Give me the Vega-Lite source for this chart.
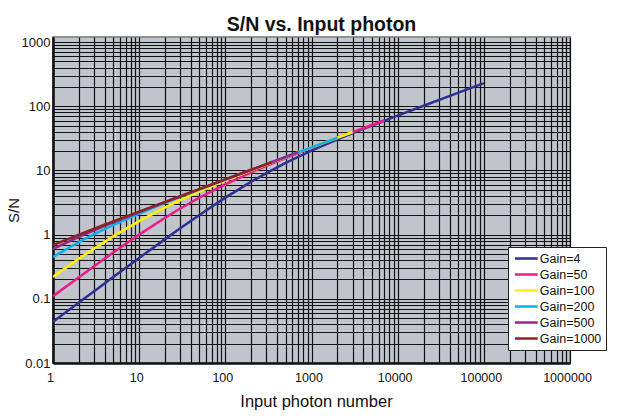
{
  "$schema": "https://vega.github.io/schema/vega-lite/v6.json",
  "autosize": {"type": "none"},
  "width": 517,
  "height": 326,
  "padding": {"left": 53, "top": 37, "right": 51, "bottom": 55},
  "background": "white",
  "title": {"text": "S/N vs. Input photon", "font": "Liberation Sans", "fontSize": 19.5, "fontWeight": "bold", "color": "#111", "anchor": "middle", "offset": 1, "dx": 10},
  "config": {
    "font": "Liberation Sans",
    "view": {"fill": "#c1c4cb", "stroke": "#8e9399", "strokeWidth": 2}
  },
  "data": {"values": [
    {"g":"Gain=4","n":1,"sn":0.044},{"g":"Gain=4","n":2,"sn":0.0879},{"g":"Gain=4","n":3,"sn":0.1316},{"g":"Gain=4","n":5,"sn":0.2185},{"g":"Gain=4","n":10,"sn":0.4331},{"g":"Gain=4","n":20,"sn":0.8512},{"g":"Gain=4","n":30,"sn":1.2555},{"g":"Gain=4","n":50,"sn":2.026},{"g":"Gain=4","n":100,"sn":3.769},{"g":"Gain=4","n":200,"sn":6.689},{"g":"Gain=4","n":300,"sn":9.112},{"g":"Gain=4","n":500,"sn":13.07},{"g":"Gain=4","n":1000,"sn":20.35},{"g":"Gain=4","n":2000,"sn":30.45},{"g":"Gain=4","n":3000,"sn":38.06},{"g":"Gain=4","n":5000,"sn":49.97},{"g":"Gain=4","n":10000,"sn":71.59},{"g":"Gain=4","n":20000,"sn":101.9},{"g":"Gain=4","n":50000,"sn":161.8},{"g":"Gain=4","n":100000,"sn":229.1},
    {"g":"Gain=50","n":1,"sn":0.11},{"g":"Gain=50","n":2,"sn":0.2176},{"g":"Gain=50","n":3,"sn":0.3227},{"g":"Gain=50","n":5,"sn":0.5265},{"g":"Gain=50","n":10,"sn":1.0015},{"g":"Gain=50","n":20,"sn":1.836},{"g":"Gain=50","n":30,"sn":2.557},{"g":"Gain=50","n":50,"sn":3.772},{"g":"Gain=50","n":100,"sn":6.078},{"g":"Gain=50","n":200,"sn":9.318},{"g":"Gain=50","n":300,"sn":11.76},{"g":"Gain=50","n":500,"sn":15.57},{"g":"Gain=50","n":1000,"sn":22.47},{"g":"Gain=50","n":2000,"sn":32.1},{"g":"Gain=50","n":3000,"sn":39.46},{"g":"Gain=50","n":5000,"sn":51.08},{"g":"Gain=50","n":7000,"sn":60.51},
    {"g":"Gain=100","n":1,"sn":0.2198},{"g":"Gain=100","n":2,"sn":0.4207},{"g":"Gain=100","n":3,"sn":0.606},{"g":"Gain=100","n":5,"sn":0.94},{"g":"Gain=100","n":10,"sn":1.627},{"g":"Gain=100","n":20,"sn":2.654},{"g":"Gain=100","n":30,"sn":3.446},{"g":"Gain=100","n":50,"sn":4.687},{"g":"Gain=100","n":100,"sn":6.92},{"g":"Gain=100","n":200,"sn":10.015},{"g":"Gain=100","n":300,"sn":12.36},{"g":"Gain=100","n":500,"sn":16.06},{"g":"Gain=100","n":1000,"sn":22.83},{"g":"Gain=100","n":2000,"sn":32.36},{"g":"Gain=100","n":3000,"sn":39.67},
    {"g":"Gain=200","n":1,"sn":0.45},{"g":"Gain=200","n":2,"sn":0.765},{"g":"Gain=200","n":3,"sn":1.015},{"g":"Gain=200","n":5,"sn":1.412},{"g":"Gain=200","n":10,"sn":2.13},{"g":"Gain=200","n":20,"sn":3.122},{"g":"Gain=200","n":30,"sn":3.872},{"g":"Gain=200","n":50,"sn":5.05},{"g":"Gain=200","n":100,"sn":7.197},{"g":"Gain=200","n":200,"sn":10.22},{"g":"Gain=200","n":300,"sn":12.53},{"g":"Gain=200","n":500,"sn":16.2},{"g":"Gain=200","n":1000,"sn":22.92},{"g":"Gain=200","n":2000,"sn":32.43},
    {"g":"Gain=500","n":1,"sn":0.6},{"g":"Gain=500","n":2,"sn":0.925},{"g":"Gain=500","n":3,"sn":1.17},{"g":"Gain=500","n":5,"sn":1.552},{"g":"Gain=500","n":10,"sn":2.243},{"g":"Gain=500","n":20,"sn":3.208},{"g":"Gain=500","n":30,"sn":3.943},{"g":"Gain=500","n":50,"sn":5.106},{"g":"Gain=500","n":100,"sn":7.238},{"g":"Gain=500","n":200,"sn":10.25},{"g":"Gain=500","n":300,"sn":12.56},{"g":"Gain=500","n":500,"sn":16.21},{"g":"Gain=500","n":700,"sn":19.19},
    {"g":"Gain=1000","n":1,"sn":0.69},{"g":"Gain=1000","n":2,"sn":1.0},{"g":"Gain=1000","n":3,"sn":1.235},{"g":"Gain=1000","n":5,"sn":1.605},{"g":"Gain=1000","n":10,"sn":2.282},{"g":"Gain=1000","n":20,"sn":3.236},{"g":"Gain=1000","n":30,"sn":3.967},{"g":"Gain=1000","n":50,"sn":5.125},{"g":"Gain=1000","n":100,"sn":7.251},{"g":"Gain=1000","n":200,"sn":10.26},{"g":"Gain=1000","n":300,"sn":12.56},{"g":"Gain=1000","n":350,"sn":13.57}
  ]},
  "mark": {"type": "line", "strokeWidth": 2.5, "clip": true},
  "encoding": {
    "x": {
      "field": "n", "type": "quantitative",
      "scale": {"type": "log", "domain": [1, 1000000], "nice": false},
      "axis": {
        "title": "Input photon number", "titleFontSize": 16.5, "titleFontWeight": "normal", "titleColor": "#111", "titlePadding": 10, "titleX": 263,
        "values": [1,2,3,4,5,6,7,8,9,10,20,30,40,50,60,70,80,90,100,200,300,400,500,600,700,800,900,1000,2000,3000,4000,5000,6000,7000,8000,9000,10000,20000,30000,40000,50000,60000,70000,80000,90000,100000,200000,300000,400000,500000,600000,700000,800000,900000,1000000],
        "format": "d",
        "labelExpr": "abs(log(datum.value)/LN10 - round(log(datum.value)/LN10)) < 0.001 ? datum.label : ''",
        "labelOverlap": false, "labelFlush": false, "labelFontSize": 12.5, "labelColor": "#111", "labelPadding": 8, "labelOffset": -3,
        "ticks": false,
        "domainColor": "#111", "domainWidth": 2.5,
        "grid": true, "gridColor": "#111", "gridOpacity": 1, "gridWidth": 1.2,
        "encode": {"grid": {"update": {"strokeWidth": {"signal": "abs(log(datum.value)/LN10 - round(log(datum.value)/LN10)) < 0.001 ? 2.2 : 1.2"}}}}
      }
    },
    "y": {
      "field": "sn", "type": "quantitative",
      "scale": {"type": "log", "domain": [0.01, 1200], "nice": false},
      "axis": {
        "title": "S/N", "titleFontSize": 15, "titleFontWeight": "normal", "titleColor": "#111", "titlePadding": 0, "titleY": 173,
        "values": [0.01,0.02,0.03,0.04,0.05,0.06,0.07,0.08,0.09,0.1,0.2,0.3,0.4,0.5,0.6,0.7,0.8,0.9,1,2,3,4,5,6,7,8,9,10,20,30,40,50,60,70,80,90,100,200,300,400,500,600,700,800,900,1000],
        "format": "~g",
        "labelExpr": "abs(log(datum.value)/LN10 - round(log(datum.value)/LN10)) < 0.001 ? datum.label : ''",
        "labelOverlap": false, "labelFlush": false, "labelFontSize": 13, "labelColor": "#111", "labelPadding": 3,
        "ticks": false,
        "domainColor": "#111", "domainWidth": 2.5,
        "grid": true, "gridColor": "#111", "gridOpacity": 1, "gridWidth": 1.2,
        "encode": {"grid": {"update": {"strokeWidth": {"signal": "abs(log(datum.value)/LN10 - round(log(datum.value)/LN10)) < 0.001 ? 2.2 : 1.2"}}}}
      }
    },
    "color": {
      "field": "g", "type": "nominal",
      "scale": {"domain": ["Gain=4","Gain=50","Gain=100","Gain=200","Gain=500","Gain=1000"], "range": ["#2e3192","#ec1c8c","#fff200","#00b4ef","#93278f","#8b2323"]},
      "legend": {
        "title": null, "orient": "none", "legendX": 455, "legendY": 210,
        "fillColor": "white", "strokeColor": "#222", "padding": 4.5,
        "symbolType": "M-2,0H2", "symbolStrokeWidth": 2.5, "symbolSize": 130, "symbolOffset": 6.8,
        "labelFontSize": 12.5, "labelColor": "#111", "labelOffset": 6.5, "rowPadding": 2
      }
    }
  }
}
